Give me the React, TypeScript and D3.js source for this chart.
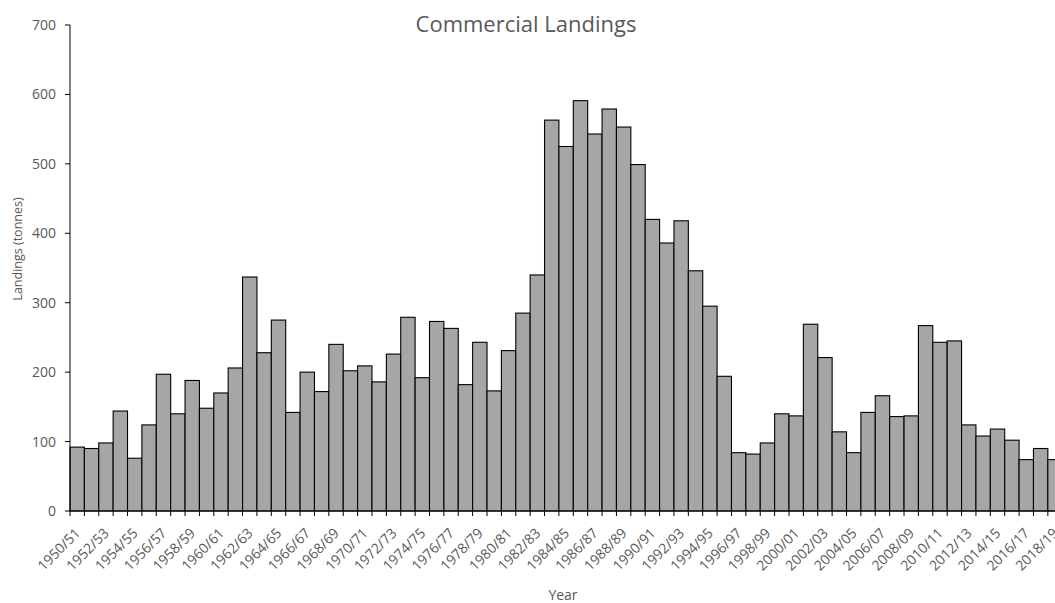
import React, { useRef, useEffect } from 'react';
import * as d3 from 'd3';

// seasons 1950/51 .. 2018/19
const startYears: number[] = d3.range(1950, 2019);
const seasons: string[] = startYears.map(y => `${y}/${String((y + 1) % 100).padStart(2, '0')}`);

// landings in tonnes
const landings: number[] = [
  92, 90, 98, 144, 76, 124, 197, 140, 188, 148,
  170, 206, 337, 228, 275, 142, 200, 172, 240, 202,
  209, 186, 226, 279, 192, 273, 263, 182, 243, 173,
  231, 285, 340, 563, 525, 591, 543, 579, 553, 499,
  420, 386, 418, 346, 295, 194, 84, 82, 98, 140,
  137, 269, 221, 114, 84, 142, 166, 136, 137, 267,
  243, 245, 124, 108, 118, 102, 74, 90, 74,
];

const yTicks: number[] = [0, 100, 200, 300, 400, 500, 600, 700];

const W = 1055;
const H = 603;
const font = "'Open Sans', sans-serif";
const textColor = '#595959';

const App: React.FC = () => {
  const ref = useRef<SVGSVGElement>(null);

  useEffect(() => {
    const svg = d3.select(ref.current!);
    svg.selectAll('*').remove();

    const left = 70;
    const band = 14.38;
    const x = d3.scaleBand<string>()
      .domain(seasons)
      .range([left, left + band * seasons.length])
      .paddingInner(0)
      .paddingOuter(0);

    const y = d3.scaleLinear().domain([0, 700]).range([511, 25]);

    // bars
    svg.append('g')
      .selectAll('rect')
      .data(landings)
      .enter().append('rect')
      .attr('x', (_, i) => x(seasons[i])!)
      .attr('y', d => y(d))
      .attr('width', x.bandwidth())
      .attr('height', d => y(0) - y(d))
      .attr('fill', '#a6a6a6')
      .attr('stroke', '#000')
      .attr('stroke-width', 1.1);

    // y axis
    const yAxis = svg.append('g');
    yAxis.append('line')
      .attr('x1', left).attr('x2', left)
      .attr('y1', y(0)).attr('y2', y(700))
      .attr('stroke', '#000').attr('stroke-width', 1);
    yAxis.selectAll('.yt')
      .data(yTicks)
      .enter().append('line')
      .attr('x1', left - 5).attr('x2', left)
      .attr('y1', d => y(d)).attr('y2', d => y(d))
      .attr('stroke', '#000');
    yAxis.selectAll('text')
      .data(yTicks)
      .enter().append('text')
      .attr('x', left - 14)
      .attr('y', d => y(d))
      .attr('dy', '0.36em')
      .attr('text-anchor', 'end')
      .attr('font-family', font)
      .attr('font-size', 14)
      .attr('fill', textColor)
      .text(d => d);

    // x axis
    const xAxis = svg.append('g');
    xAxis.append('line')
      .attr('x1', left).attr('x2', x.range()[1])
      .attr('y1', y(0)).attr('y2', y(0))
      .attr('stroke', '#000').attr('stroke-width', 1.2);
    xAxis.selectAll('.xt')
      .data(d3.range(seasons.length + 1))
      .enter().append('line')
      .attr('x1', i => left + i * x.step())
      .attr('x2', i => left + i * x.step())
      .attr('y1', y(0)).attr('y2', y(0) + 5)
      .attr('stroke', '#000');
    xAxis.selectAll('text')
      .data(seasons.filter((_, i) => i % 2 === 0))
      .enter().append('text')
      .attr('transform', s => `translate(${x(s)! + x.bandwidth() / 2 + 4},${y(0) + 23}) rotate(-45)`)
      .attr('text-anchor', 'end')
      .attr('font-family', font)
      .attr('font-size', 14)
      .attr('fill', textColor)
      .text(s => s);

    // titles
    svg.append('text')
      .attr('x', 526).attr('y', 32)
      .attr('text-anchor', 'middle')
      .attr('font-family', font)
      .attr('font-size', 22)
      .attr('fill', textColor)
      .text('Commercial Landings');

    svg.append('text')
      .attr('transform', `translate(22,249) rotate(-90)`)
      .attr('text-anchor', 'middle')
      .attr('font-family', font)
      .attr('font-size', 12.5)
      .attr('fill', textColor)
      .text('Landings (tonnes)');

    svg.append('text')
      .attr('x', 563).attr('y', 600)
      .attr('text-anchor', 'middle')
      .attr('font-family', font)
      .attr('font-size', 14)
      .attr('fill', textColor)
      .text('Year');
  }, []);

  return (
    <svg
      ref={ref}
      width={W}
      height={H}
      style={{ position: 'absolute', left: 0, top: 0, background: '#fff' }}
    ></svg>
  );
};

export default App;
